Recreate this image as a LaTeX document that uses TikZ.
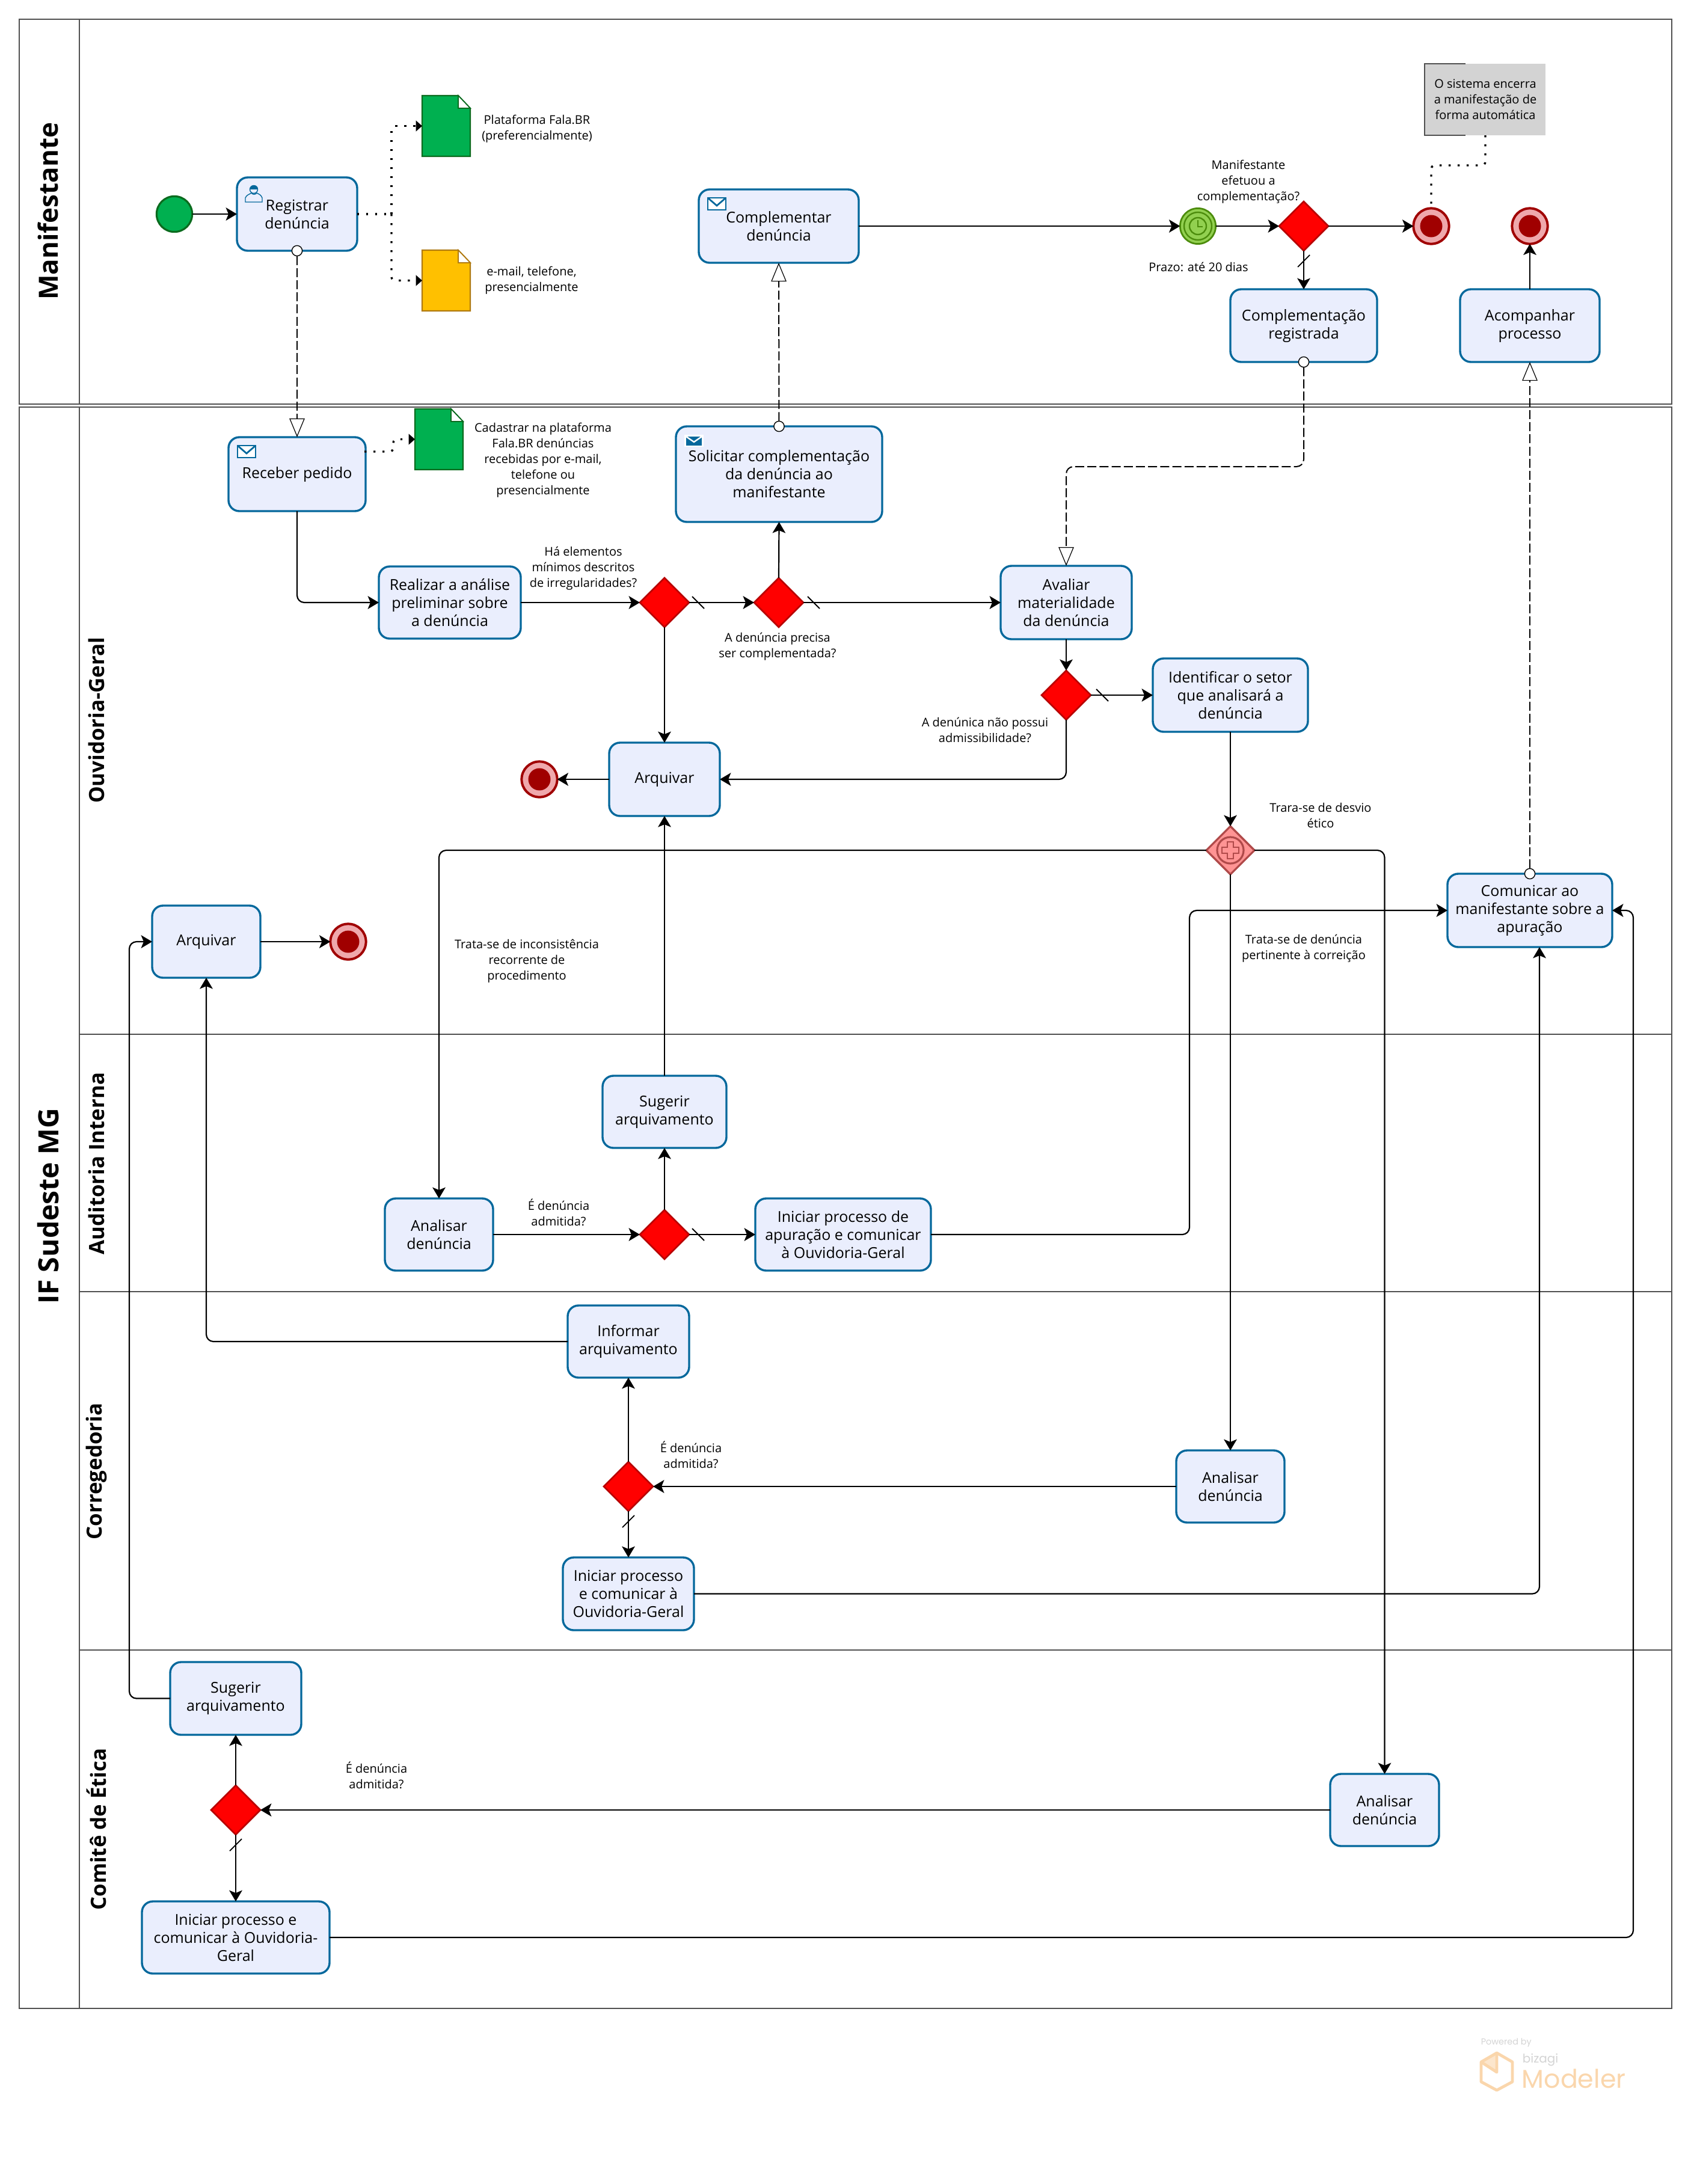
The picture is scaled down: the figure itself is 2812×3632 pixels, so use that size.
\documentclass[tikz,border=0pt]{standalone}
\usepackage{fontspec}
\setmainfont{Open Sans}
\newfontfamily\logofont{Poppins}
\usetikzlibrary{arrows.meta,shapes.geometric,calc}
\definecolor{taskblue}{HTML}{04689C}
\definecolor{taskfill}{HTML}{EAEEFD}
\definecolor{poolline}{HTML}{505050}
\definecolor{docgreen}{HTML}{00B050}
\definecolor{docgreenb}{HTML}{0B6B1E}
\definecolor{docyellow}{HTML}{FFC000}
\definecolor{docyellowb}{HTML}{B07A10}
\definecolor{endred}{HTML}{A00000}
\definecolor{endpink}{HTML}{EFA8AC}
\definecolor{timerb}{HTML}{4C8C0C}
\definecolor{timerf}{HTML}{92D050}
\definecolor{gwb}{HTML}{B80000}
\definecolor{pgf}{HTML}{FF9494}
\definecolor{pgb}{HTML}{B04A4A}
\definecolor{logoor}{HTML}{FAD6AC}
\definecolor{logogr}{HTML}{D4D4D4}
\definecolor{notegr}{HTML}{D3D3D3}
\tikzset{
  taskbox/.style={draw=taskblue,fill=taskfill,line width=0.85pt,rounded corners=4.5pt,align=center,
    font=\fontsize{6.25}{7.5}\selectfont,inner sep=0pt,outer sep=0pt},
  gate/.style={diamond,aspect=1,draw=gwb,fill=red,line width=0.65pt,minimum width=20.5pt,minimum height=20.5pt,inner sep=0pt,outer sep=0pt},
  pargate/.style={diamond,aspect=1,draw=pgb,fill=pgf,line width=0.8pt,minimum width=20pt,minimum height=20pt,inner sep=0pt,outer sep=0pt},
  startev/.style={circle,draw=docgreenb,fill=docgreen,line width=0.8pt,minimum size=14.8pt,inner sep=0pt,outer sep=0pt},
  endev/.style={circle,draw=endred,fill=endpink,line width=1pt,minimum size=14.8pt,inner sep=0pt,outer sep=0pt},
  timerev/.style={circle,draw=timerb,fill=timerf,line width=0.7pt,minimum size=14.8pt,inner sep=0pt,outer sep=0pt},
  flow/.style={draw=black,line width=0.55pt,rounded corners=3pt,-{Stealth[length=4.6pt,width=5.4pt,inset=1.1pt]}},
  msg/.style={draw=black,line width=0.5pt,rounded corners=3pt,dash pattern=on 3.75pt off 1.3pt,
    -{Triangle[open,fill=white,length=7.8pt,width=6.4pt,line width=0.3pt]}},
  assoc/.style={draw=black,line width=0.85pt,rounded corners=1.5pt,dash pattern=on 0.85pt off 2.9pt,
    -{Stealth[length=2.6pt,width=4.4pt,inset=0pt]}},
  assocplain/.style={draw=black,line width=0.85pt,rounded corners=1.5pt,dash pattern=on 0.85pt off 2.9pt},
  flowslash/.style={draw=black,line width=0.45pt},
  msgdot/.style={circle,draw=black,fill=white,line width=0.35pt,minimum size=4.3pt,inner sep=0pt,outer sep=0pt},
  lbl/.style={align=center,font=\fontsize{5}{6.5}\selectfont,inner sep=0pt},
  pool/.style={draw=poolline,line width=0.5pt},
  lanetitle/.style={rotate=90,font=\bfseries\fontsize{8.7}{10}\selectfont,inner sep=0pt},
  pooltitle/.style={rotate=90,font=\bfseries\fontsize{11}{13}\selectfont,inner sep=0pt},
  envline/.style={draw=taskblue,line width=0.7pt},
}
\newcommand\tasknode[6]{%
  \pgfmathsetmacro\tw{(#4-#2)*0.25}\pgfmathsetmacro\th{(#5-#3)*0.25}%
  \node[taskbox,minimum width=\tw pt,minimum height=\th pt] (#1) at ({(#2+#4)/2},{(#3+#5)/2}) {#6};}
% document: name, x1, y1, fill, border
\newcommand\docnode[5]{%
  \node[minimum width=20pt,minimum height=25.2pt,inner sep=0pt,outer sep=0pt] (#1) at ({#2+40},{#3+50.5}) {};
  \draw[draw=#5,fill=#4,line width=0.55pt,line join=miter] (#2,#3) -- (#2+60,#3) -- (#2+80,#3+21) -- (#2+80,#3+101) -- (#2,#3+101) -- cycle;
  \draw[draw=#5,fill=white,line width=0.4pt] (#2+60,#3) -- (#2+60,#3+21) -- (#2+80,#3+21) -- cycle;}
\newcommand\envopen[2]{%
  \draw[envline,fill=white] (#1-15,#2-10) rectangle (#1+15,#2+10);
  \draw[envline] (#1-15,#2-10) -- (#1,#2+3) -- (#1+15,#2-10);}
\newcommand\envfull[2]{%
  \fill[white] (#1-16,#2-10) rectangle (#1+16,#2+10);
  \fill[taskblue] (#1-13,#2-7) rectangle (#1+13,#2+8);
  \draw[white,line width=0.6pt] (#1-13,#2-7) -- (#1,#2+2) -- (#1+13,#2-7);}
\newcommand\slashmark[3]{\draw[flowslash] (#1-#3*10,#2-10) -- (#1+#3*10,#2+10);}
\begin{document}
\begin{tikzpicture}[x=0.25pt,y=-0.25pt]
\useasboundingbox (0,0) rectangle (2812,3632);
\fill[white] (0,0) rectangle (2812,3632);
% pools
\draw[pool] (32,32) rectangle (2780,672);
\draw[pool] (132,32) -- (132,672);
\draw[pool] (32,677) rectangle (2780,3340);
\draw[pool] (132,677) -- (132,3340);
\draw[pool,line width=0.3pt] (132,1720) -- (2780,1720);
\draw[pool,line width=0.3pt] (132,2148) -- (2780,2148);
\draw[pool,line width=0.3pt] (132,2744) -- (2780,2744);
\node[pooltitle] (tman) at (80,351) {Manifestante};
\node[pooltitle,font=\bfseries\fontsize{11.6}{13}\selectfont] (tif) at (80,2006) {IF Sudeste MG};
\node[lanetitle] (tog) at (160,1198) {Ouvidoria-Geral};
\node[lanetitle] (tai) at (160,1935) {Auditoria Interna};
\node[lanetitle] (tco) at (160,2447) {Corregedoria};
\node[lanetitle] (tce) at (160,3042) {Comitê de Ética};

% events
\node[startev] (start) at (290,356) {};
\node[timerev] (timer) at (1992,376) {};
\draw[timerb,line width=0.6pt] (timer) circle (23);
\draw[timerb,line width=0.6pt] (timer) circle (14);
\draw[timerb,line width=0.5pt] (1992,366) -- (1992,377) -- (2000,377);
\node[endev] (end1) at (2380,376) {};
\node[endev] (end2) at (2544,376) {};
\node[endev] (end3) at (897,1296) {};
\node[endev] (end4) at (579,1566) {};
\foreach \n in {end1,end2,end3,end4} \fill[endred] (\n) circle (18.5);

% tasks
\tasknode{reg}{394}{295}{594}{417}{Registrar\\denúncia}
\tasknode{compl}{1162}{315}{1428}{437}{Complementar\\denúncia}
\tasknode{creg}{2046}{481}{2290}{602}{Complementação\\registrada}
\tasknode{acom}{2428}{481}{2660}{602}{Acompanhar\\processo}
\tasknode{rec}{380}{727}{608}{850}{Receber pedido}
\tasknode{sol}{1124}{709}{1467}{868}{Solicitar complementação\\da denúncia ao\\manifestante}
\tasknode{real}{630}{942}{866}{1062}{Realizar a análise\\preliminar sobre\\a denúncia}
\tasknode{aval}{1664}{941}{1882}{1063}{Avaliar\\materialidade\\da denúncia}
\tasknode{iden}{1917}{1095}{2175}{1217}{Identificar o setor\\que analisará a\\denúncia}
\tasknode{arqo}{1013}{1235}{1197}{1357}{Arquivar}
\tasknode{arql}{253}{1506}{433}{1626}{Arquivar}
\tasknode{comu}{2407}{1453}{2681}{1575}{Comunicar ao\\manifestante sobre a\\apuração}
\tasknode{suga}{1002}{1789}{1208}{1909}{Sugerir\\arquivamento}
\tasknode{ana}{640}{1993}{820}{2113}{Analisar\\denúncia}
\tasknode{inia}{1256}{1993}{1548}{2113}{Iniciar processo de\\apuração e comunicar\\à Ouvidoria-Geral}
\tasknode{info}{944}{2171}{1146}{2291}{Informar\\arquivamento}
\tasknode{anc}{1956}{2412}{2136}{2532}{Analisar\\denúncia}
\tasknode{inic}{936}{2590}{1154}{2711}{Iniciar processo\\e comunicar à\\Ouvidoria-Geral}
\tasknode{sugc}{283}{2764}{501}{2885}{Sugerir\\arquivamento}
\tasknode{ane}{2212}{2950}{2393}{3070}{Analisar\\denúncia}
\tasknode{inie}{236}{3162}{548}{3282}{Iniciar processo e\\comunicar à Ouvidoria-\\Geral}

% task icons
\envopen{1192}{339}
\envopen{410}{751}
\envfull{1154}{733}
\draw[taskblue,line width=0.35pt,fill=taskfill] (408,336) -- (408,329) .. controls (410,324) and (415,323) .. (418,321) .. controls (421,324) and (424,324) .. (427,321) .. controls (431,323) and (434,324) .. (436,329) -- (436,336) -- cycle;
\draw[taskblue,line width=0.35pt,fill=taskfill] (422,315) circle (6.5);
\fill[taskblue] (415.5,315) .. controls (415.5,306) and (428.5,306) .. (428.5,315) -- cycle;

% gateways
\node[gate] (gman) at (2168,376) {};
\node[gate] (g1) at (1105,1002) {};
\node[gate] (g2) at (1295,1002) {};
\node[gate] (g3) at (1773,1156) {};
\node[pargate] (pg) at (2046,1414) {};
\draw[pgb,line width=0.8pt] (pg) circle (22);
\draw[pgb,line width=0.5pt] (2041,1400) -- (2051,1400) -- (2051,1409) -- (2060,1409) -- (2060,1419) -- (2051,1419) -- (2051,1428) -- (2041,1428) -- (2041,1419) -- (2032,1419) -- (2032,1409) -- (2041,1409) -- cycle;
\node[gate] (ga) at (1105,2053) {};
\node[gate] (gc) at (1045,2472) {};
\node[gate] (ge) at (392,3010) {};

% documents
\docnode{doc1}{702}{159}{docgreen}{docgreenb}
\docnode{doc2}{702}{416}{docyellow}{docyellowb}
\docnode{doc3}{690}{680}{docgreen}{docgreenb}

% annotation
\fill[notegr] (2369,106) rectangle (2570,225);
\node[lbl,minimum width=50pt] (note) at (2470,165.5) {O sistema encerra\\a manifestação de\\forma automática};
\draw[poolline,line width=0.3pt] (2437,106) -- (2369,106) -- (2369,225) -- (2437,225);

% labels
\node[lbl] (l1) at (893,214) {Plataforma Fala.BR\\(preferencialmente)};
\node[lbl] (l2) at (884,466) {e-mail, telefone,\\presencialmente};
\node[lbl] (l3) at (903,765) {Cadastrar na plataforma\\Fala.BR denúncias\\recebidas por e-mail,\\telefone ou\\presencialmente};
\node[lbl] (l4) at (970,945) {Há elementos\\mínimos descritos\\de irregularidades?};
\node[lbl] (l5) at (1293,1075) {A denúncia precisa\\ser complementada?};
\node[lbl] (l6) at (2076,302) {Manifestante\\efetuou a\\complementação?};
\node[lbl] (l7) at (1993,444) {Prazo: até 20 dias};
\node[lbl] (l8) at (1638,1214) {A denúnica não possui\\admissibilidade?};
\node[lbl] (l9) at (2196,1356) {Trara-se de desvio\\ético};
\node[lbl] (l10) at (2168,1577) {Trata-se de denúncia\\pertinente à correição};
\node[lbl] (l11) at (876,1598) {Trata-se de inconsistência\\recorrente de\\procedimento};
\node[lbl] (l12) at (929,2016) {É denúncia\\admitida?};
\node[lbl] (l13) at (1149,2419) {É denúncia\\admitida?};
\node[lbl] (l14) at (626,2952) {É denúncia\\admitida?};

% flows
\draw[flow] (start) -- (reg);
\draw[flow] (rec.south) |- (real.west);
\draw[flow] (real.east) -- (g1.west);
\draw[flow] (g1.east) -- (g2.west);
\draw[flow] (g2.east) -- (aval.west);
\draw[flow] (g2.north) -- (sol.south);
\draw[flow] (g1.south) -- (arqo.north);
\draw[flow] (aval.south) -- (g3.north);
\draw[flow] (g3.east) -- (iden.west);
\draw[flow] (g3.south) |- (arqo.east);
\draw[flow] (arqo.west) -- (end3);
\draw[flow] (iden.south) -- (pg.north);
\draw[flow] (pg.west) -| (ana.north);
\draw[flow] (pg.south) -- (anc.north);
\draw[flow] (pg.east) -| (ane.north);
\draw[flow] (ana.east) -- (ga.west);
\draw[flow] (ga.north) -- (suga.south);
\draw[flow] (ga.east) -- (inia.west);
\draw[flow] (suga.north) -- (arqo.south);
\coordinate (k1) at (1978,1800);
\draw[flow] (inia.east) -- (inia.east -| k1) -- (comu.west -| k1) -- (comu.west);
\draw[flow] (anc.west) -- (gc.east);
\draw[flow] (gc.north) -- (info.south);
\draw[flow] (gc.south) -- (inic.north);
\draw[flow] (info.west) -| (arql.south);
\coordinate (k2) at ($(comu.south)+(16,0)$);
\draw[flow] (inic.east) -| (k2);
\draw[flow] (ane.west) -- (ge.east);
\draw[flow] (ge.north) -- (sugc.south);
\draw[flow] (ge.south) -- (inie.north);
\coordinate (k3) at (215,2000);
\draw[flow] (sugc.west) -- (sugc.west -| k3) -- (arql.west -| k3) -- (arql.west);
\coordinate (k4) at (2716,2500);
\draw[flow] (inie.east) -- (inie.east -| k4) -- (comu.east -| k4) -- (comu.east);
\draw[flow] (arql.east) -- (end4);
\draw[flow] (compl.east) -- (timer);
\draw[flow] (timer) -- (gman.west);
\draw[flow] (gman.east) -- (end1);
\draw[flow] (gman.south) -- (creg.north);
\draw[flow] (acom.north) -- (end2);

% default-flow marks
\slashmark{1161}{1002}{1}
\slashmark{1353}{1002}{1}
\slashmark{1833}{1156}{1}
\slashmark{1161}{2053}{1}
\slashmark{2168}{434}{-1}
\slashmark{1045}{2530}{-1}
\slashmark{392}{3068}{-1}

% message flows
\node[msgdot] (dreg) at (reg.south) {};
\node[msgdot] (dsol) at (sol.north) {};
\node[msgdot] (dcreg) at (creg.south) {};
\node[msgdot] (dcomu) at (comu.north) {};
\draw[msg] (dreg) -- (dreg |- rec.north);
\draw[msg] (dsol) -- (compl.south);
\coordinate (k5) at (1773,776);
\draw[msg] (dcreg) |- (k5) -- (aval.north);
\draw[msg] (dcomu) -- (acom.south);

% associations
\coordinate (j1) at (651,356);
\draw[assocplain] (reg.east) -- (j1);
\draw[assoc] (j1) |- (doc1.west);
\draw[assoc] (j1) |- (doc2.west);
\coordinate (j2) at (606,751);
\coordinate (j3) at (654,751);
\draw[assoc] (j2) -- (j3) |- (doc3.west);
\coordinate (j4) at (2380,275);
\draw[assocplain] (note.south |- 0,225) |- (j4) -- (end1.north);

% watermark
\node[anchor=west,inner sep=0pt,text=logogr,font=\logofont\fontsize{3.6}{4}\selectfont] (wm1) at (2462,3397) {Powered by};
\fill[logoor,opacity=0.6] (2489,3414) -- (2463,3429) -- (2489,3446) -- cycle;
\draw[logoor,line width=1.2pt,line join=round] (2489,3414) -- (2515,3429) -- (2515,3462) -- (2489,3476) -- (2463,3462) -- (2463,3429) -- cycle;
\draw[logoor,line width=1.2pt,line join=round] (2463,3429) -- (2489,3446) -- (2489,3414);
\node[anchor=west,inner sep=0pt,text=logogr,font=\logofont\fontsize{5}{6}\selectfont] (wm2) at (2531,3426) {bizagi};
\node[anchor=base west,inner sep=0pt,text=logoor,font=\logofont\fontsize{10.7}{12}\selectfont] (wm3) at (2530,3472) {Modeler};
\end{tikzpicture}
\end{document}
